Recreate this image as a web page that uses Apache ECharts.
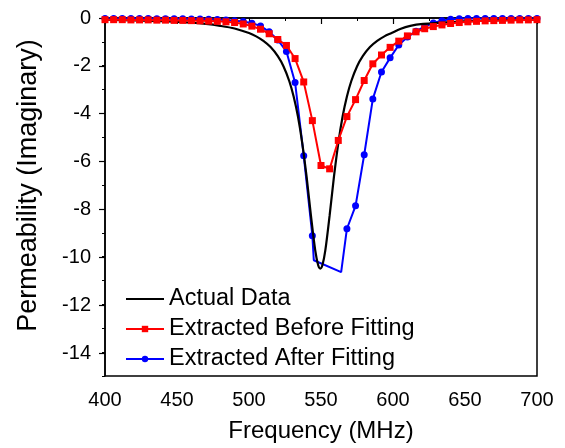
<!DOCTYPE html>
<html>
<head>
<meta charset="utf-8">
<script src="https://cdn.jsdelivr.net/npm/echarts@6/dist/echarts.min.js"></script>
<style>html,body{margin:0;padding:0;background:#fff}#c{width:565px;height:448px}</style>
</head>
<body>
<div id="c"></div>
<script>
// ---- data ----
var seriesNames = ['Actual Data', 'Extracted Before Fitting', 'Extracted After Fitting'];
var xTickValues = [400, 450, 500, 550, 600, 650, 700];
var yTickValues = [0, -2, -4, -6, -8, -10, -12, -14];

var freqBlack = [400,420,440,460,470,480,490,500,505,510,515,520,524,528,531,534,537,540,543,546,548,549.5,551,553,556,559,562,565,568,571,575,579,584,589,594,599,605,612,621,640,660,680,700];
var valBlack  = [-0.07,-0.10,-0.13,-0.20,-0.25,-0.33,-0.44,-0.63,-0.77,-0.96,-1.22,-1.60,-2.03,-2.65,-3.29,-4.13,-5.25,-6.65,-8.27,-9.74,-10.35,-10.5,-10.35,-9.74,-8.27,-6.65,-5.25,-4.13,-3.29,-2.65,-2.03,-1.60,-1.22,-0.96,-0.77,-0.63,-0.46,-0.33,-0.25,-0.17,-0.12,-0.09,-0.07];

var freqRed = [400,406,412,418,424,430,436,442,448,454,460,466,472,478,484,490,496,502,508,514,520,526,532,538,544,550,556,562,568,574,580,586,592,598,604,610,616,622,628,634,640,646,652,658,664,670,676,682,688,694,700];
var valRed  = [-0.07,-0.07,-0.07,-0.08,-0.08,-0.08,-0.09,-0.09,-0.10,-0.10,-0.11,-0.12,-0.13,-0.14,-0.16,-0.19,-0.25,-0.34,-0.47,-0.66,-0.90,-1.15,-1.70,-2.68,-4.30,-6.18,-6.32,-5.13,-4.13,-3.42,-2.62,-1.92,-1.55,-1.23,-0.97,-0.75,-0.58,-0.45,-0.36,-0.29,-0.23,-0.19,-0.16,-0.14,-0.12,-0.11,-0.10,-0.09,-0.08,-0.08,-0.07];

var freqBlue = [400,406,412,418,424,430,436,442,448,454,460,466,472,478,484,490,496,502,508,514,520,526,532,538,544,545,564,568,574,580,586,592,598,604,610,616,622,628,634,640,646,652,658,664,670,676,682,688,694,700];
var valBlue  = [-0.02,-0.02,-0.02,-0.02,-0.02,-0.02,-0.03,-0.03,-0.03,-0.03,-0.04,-0.04,-0.05,-0.06,-0.08,-0.11,-0.15,-0.22,-0.33,-0.58,-0.92,-1.40,-2.70,-5.77,-9.12,-10.15,-10.65,-8.83,-7.87,-5.73,-3.39,-2.26,-1.67,-1.13,-0.80,-0.55,-0.36,-0.21,-0.11,-0.05,-0.03,-0.02,-0.02,-0.02,-0.02,-0.02,-0.02,-0.02,-0.02,-0.02];
var blueNoMarker = [545, 564]; // corner points drawn without a symbol

// ---- build ----
function pairs(xs, ys) { return xs.map(function (x, i) { return [x, ys[i]]; }); }
var blueData = freqBlue.map(function (x, i) {
  var item = { value: [x, valBlue[i]] };
  if (blueNoMarker.indexOf(x) >= 0) { item.symbol = 'none'; }
  return item;
});

var FONT = '"Liberation Sans", Arial, sans-serif';
var chart = echarts.init(document.getElementById('c'), null, { renderer: 'canvas' });
chart.setOption({
  animation: false,
  backgroundColor: '#fff',
  grid: [
    { left: 105, right: 28, top: 18, height: 359, show: true, borderColor: '#000', borderWidth: 1.5, backgroundColor: 'transparent' },
    { left: 105, right: 28, top: 18, height: 335 }
  ],
  legend: {
    data: [
      { name: seriesNames[0], itemStyle: { opacity: 0 } },
      { name: seriesNames[1] },
      { name: seriesNames[2] }
    ],
    orient: 'vertical',
    left: 125,
    top: 287,
    padding: 0,
    itemWidth: 38,
    itemHeight: 8,
    itemGap: 6,
    textStyle: { fontFamily: FONT, fontSize: 23.5, color: '#000', lineHeight: 23 }
  },
  xAxis: [
    {
      type: 'value', gridIndex: 0, min: xTickValues[0], max: xTickValues[xTickValues.length - 1], interval: 50,
      axisLine: { lineStyle: { color: '#000', width: 1.5 } },
      axisTick: { length: 6, lineStyle: { color: '#000', width: 1.2 } },
      minorTick: { show: true, splitNumber: 2, length: 3, lineStyle: { color: '#000', width: 1 } },
      axisLabel: { fontFamily: FONT, fontSize: 20, color: '#000', margin: 14 },
      splitLine: { show: false },
      name: 'Frequency (MHz)', nameLocation: 'middle', nameGap: 43,
      nameTextStyle: { fontFamily: FONT, fontSize: 24, color: '#000' }
    },
    { type: 'value', gridIndex: 1, min: 400, max: 700, show: false }
  ],
  yAxis: [
    {
      type: 'value', gridIndex: 0, min: -15, max: 0, interval: 1,
      axisLine: { lineStyle: { color: '#000', width: 1.5 } },
      axisTick: { length: 3, lineStyle: { color: '#000', width: 1 } },
      axisLabel: { show: false },
      splitLine: { show: false }
    },
    {
      type: 'value', gridIndex: 1, min: yTickValues[yTickValues.length - 1], max: yTickValues[0], interval: 2,
      axisLine: { show: false },
      axisTick: { length: 6, lineStyle: { color: '#000', width: 1.2 } },
      axisLabel: { fontFamily: FONT, fontSize: 20, color: '#000', margin: 14 },
      splitLine: { show: false },
      name: 'Permeability (Imaginary)', nameLocation: 'middle', nameGap: 63,
      nameTextStyle: { fontFamily: FONT, fontSize: 27, color: '#000' }
    }
  ],
  series: [
    {
      name: seriesNames[2], type: 'line', xAxisIndex: 0, yAxisIndex: 0,
      data: blueData, symbol: 'circle', symbolSize: 7, z: 2,
      lineStyle: { color: '#0000ff', width: 2 }, itemStyle: { color: '#0000ff' }
    },
    {
      name: seriesNames[0], type: 'line', xAxisIndex: 0, yAxisIndex: 0,
      data: pairs(freqBlack, valBlack), symbol: 'none', smooth: 0.3, z: 3,
      lineStyle: { color: '#000', width: 2.2 }, itemStyle: { color: '#000' }
    },
    {
      name: seriesNames[1], type: 'line', xAxisIndex: 0, yAxisIndex: 0,
      data: pairs(freqRed, valRed), symbol: 'rect', symbolSize: 7, z: 4,
      lineStyle: { color: '#ff0000', width: 2 }, itemStyle: { color: '#ff0000' }
    }
  ]
});
</script>
</body>
</html>
